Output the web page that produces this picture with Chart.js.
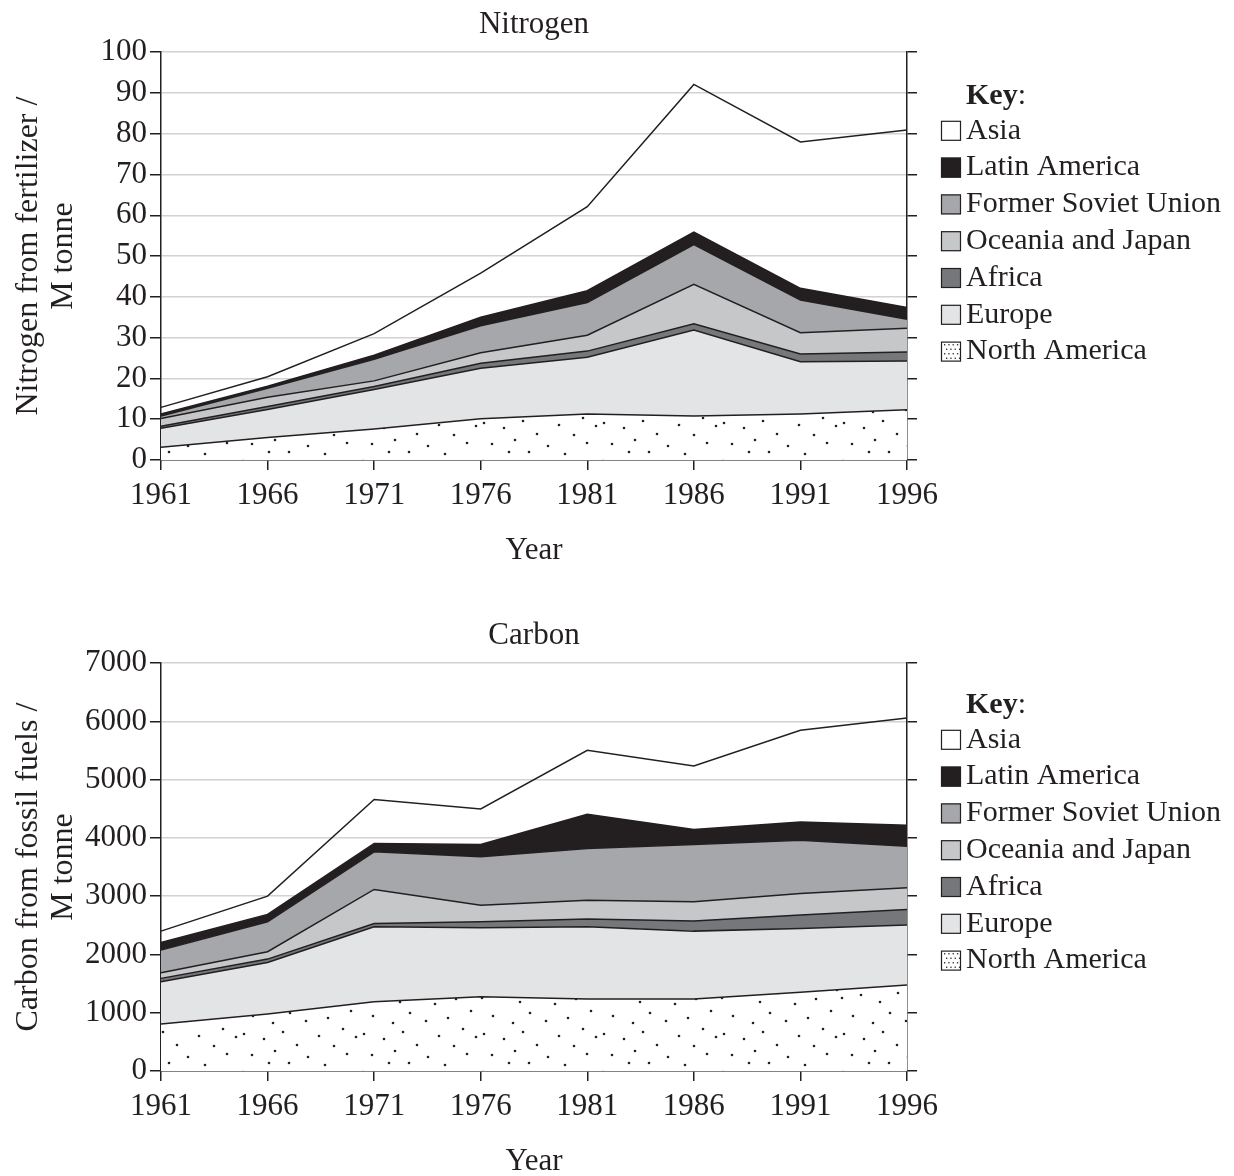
<!DOCTYPE html>
<html>
<head>
<meta charset="utf-8">
<script src="https://cdn.jsdelivr.net/npm/chart.js@4.4.1/dist/chart.umd.min.js"></script>
<style>
    body { margin: 0; background: #fff; }
    .panel { position: absolute; left: 0; width: 1234px; height: 569px; }
    #nitrogen-panel { top: 0; }
    #carbon-panel { top: 611px; }
</style>
</head>
<body>
<div class="panel" id="nitrogen-panel"><canvas id="nitrogenChart"></canvas></div>
<div class="panel" id="carbon-panel"><canvas id="carbonChart"></canvas></div>
<script>
const years = ['1961', '1966', '1971', '1976', '1981', '1986', '1991', '1996'];
// stacking order, bottom to top
const regions = ['North America', 'Europe', 'Africa', 'Oceania and Japan', 'Former Soviet Union', 'Latin America', 'Asia'];

// Nitrogen from fertilizer, M tonne
const nitroNorthAmerica = [3.1, 5.5, 7.6, 10.1, 11.3, 10.8, 11.3, 12.3];
const nitroEurope = [4.7, 6.9, 9.7, 12.4, 13.9, 21.1, 12.8, 12.0];
const nitroAfrica = [0.5, 0.7, 0.7, 1.2, 1.5, 1.5, 1.9, 2.2];
const nitroOceaniaJapan = [1.9, 2.3, 1.4, 2.6, 3.9, 9.7, 5.2, 5.8];
const nitroSovietUnion = [0.6, 2.2, 5.3, 6.6, 8.0, 9.7, 8.0, 2.2];
const nitroLatinAmerica = [0.5, 0.5, 1.0, 2.1, 2.9, 3.1, 2.9, 2.9];
const nitroAsia = [1.6, 2.3, 5.3, 10.8, 20.6, 36.2, 35.9, 43.5];

// Carbon from fossil fuels, M tonne
const carbNorthAmerica = [806, 978, 1189, 1275, 1235, 1235, 1350, 1475];
const carbEurope = [726, 886, 1286, 1183, 1240, 1166, 1098, 1029];
const carbAfrica = [58, 57, 58, 103, 132, 172, 228, 270];
const carbOceaniaJapan = [96, 126, 583, 286, 326, 331, 372, 370];
const carbSovietUnion = [389, 514, 646, 829, 887, 984, 914, 715];
const carbLatinAmerica = [132, 127, 144, 212, 588, 258, 314, 361];
const carbAsia = [194, 314, 754, 611, 1098, 1091, 1573, 1840];

const nitroTicks = [0, 100, 10];
const carbTicks = [0, 7000, 1000];

const ink = '#231f20';
const fontSize = 31;
const keyFontSize = 30;

Chart.defaults.font.family = '"Liberation Serif", "Times New Roman", serif';
Chart.defaults.font.size = fontSize;
Chart.defaults.color = ink;

// dotted fill for North America
const dotSpots = [[9, 3], [31, 14], [47, 6], [70, 2], [83, 15], [104, 7], [117, 19],
    [2, 27], [21, 24], [40, 31], [58, 22], [75, 33], [96, 28], [111, 40],
    [13, 45], [33, 52], [50, 42], [66, 50], [88, 47], [103, 58],
    [4, 63], [24, 68], [43, 61], [57, 74], [79, 65], [94, 75], [116, 66],
    [12, 84], [35, 80], [49, 92], [68, 86], [85, 94], [107, 83],
    [3, 101], [22, 106], [41, 112], [60, 102], [77, 113], [97, 104], [115, 110], [29, 92], [16, 118], [90, 119]];

function makeDots() {
    const tile = document.createElement('canvas');
    tile.width = 120;
    tile.height = 120;
    const c = tile.getContext('2d');
    c.fillStyle = '#fff';
    c.fillRect(0, 0, 120, 120);
    c.fillStyle = ink;
    dotSpots.forEach(d => {
        c.beginPath();
        c.arc(d[0], d[1], 1.3, 0, Math.PI * 2);
        c.fill();
    });
    return c.createPattern(tile, 'repeat');
}

const fills = [makeDots(), '#e3e4e6', '#76777b', '#c6c7c9', '#a6a7ab', ink, '#ffffff'];

const keyPlugin = {
    id: 'key',
    afterDraw(chart, args, opts) {
        const ctx = chart.ctx;
        const x = 941;
        const step = 36.8;
        ctx.save();
        ctx.textBaseline = 'middle';
        ctx.fillStyle = ink;
        ctx.font = 'bold ' + keyFontSize + 'px "Liberation Serif"';
        ctx.fillText('Key', 966, opts.top);
        const w = ctx.measureText('Key').width;
        ctx.font = keyFontSize + 'px "Liberation Serif"';
        ctx.fillText(':', 966 + w, opts.top);

        const list = chart.data.datasets.slice().reverse();
        list.forEach((ds, i) => {
            const y = opts.top - 2 + step * (i + 1);
            if (typeof ds.backgroundColor === 'string') {
                ctx.fillStyle = ds.backgroundColor;
                ctx.fillRect(x, y - 10, 20, 20);
            } else {
                // small swatch of dots
                ctx.fillStyle = '#fff';
                ctx.fillRect(x, y - 10, 20, 20);
                ctx.fillStyle = ink;
                for (let r = 0; r < 4; r++) {
                    for (let c = 0; c < 4; c++) {
                        ctx.fillRect(x + 3 + c * 4.3 + (r % 2) * 2, y - 7.5 + r * 4.5, 1.3, 1.3);
                    }
                }
            }
            ctx.strokeStyle = ink;
            ctx.lineWidth = 1.2;
            ctx.strokeRect(x + 0.5, y - 9.5, 19, 19);
            ctx.fillStyle = ink;
            ctx.fillText(ds.label, 966, y);
        });
        ctx.restore();
    }
};

function buildDatasets(series) {
    return regions.map((name, i) => ({
        label: name,
        data: series[i],
        backgroundColor: fills[i],
        borderColor: ink,
        borderWidth: 1.5,
        pointRadius: 0,
        tension: 0,
        fill: i === 0 ? 'origin' : (name === 'Asia' ? false : '-1')
    }));
}

function makeChart(canvasId, title, yTitle, ticks, series, keyTop) {
    const [yMin, yMax, yStep] = ticks;
    return new Chart(document.getElementById(canvasId), {
        type: 'line',
        data: {
            labels: years,
            datasets: buildDatasets(series)
        },
        options: {
            responsive: true,
            maintainAspectRatio: false,
            animation: false,
            plugins: {
                legend: {display: false},
                tooltip: {enabled: false},
                title: {
                    display: true,
                    text: title,
                    fullSize: false,
                    color: ink,
                    font: {size: fontSize, weight: 'normal', lineHeight: 1.2},
                    padding: {top: 6, bottom: 9}
                },
                key: {top: keyTop}
            },
            scales: {
                x: {
                    grid: {drawOnChartArea: false, tickLength: 10, tickColor: ink, lineWidth: 1.5},
                    border: {color: ink, width: 1.5},
                    ticks: {color: ink, padding: 7, maxRotation: 0, autoSkip: false},
                    title: {display: true, text: 'Year', color: ink, font: {size: fontSize, lineHeight: 1.2}, padding: 0},
                    afterFit: s => { s.height = 109; }
                },
                y: {
                    stacked: true,
                    min: yMin,
                    max: yMax,
                    ticks: {stepSize: yStep, color: ink, padding: 3, callback: v => String(v)},
                    grid: {color: '#d2d2d2', lineWidth: 1.5, tickColor: ink, tickLength: 11},
                    border: {color: ink, width: 1.5},
                    title: {display: true, text: yTitle, color: ink, font: {size: 32, lineHeight: 1.1}, padding: {top: 11}},
                    afterFit: s => { s.width = 161; }
                },
                y2: {
                    position: 'right',
                    min: yMin,
                    max: yMax,
                    ticks: {stepSize: yStep, callback: () => ''},
                    grid: {drawOnChartArea: false, tickColor: ink, tickLength: 10, lineWidth: 1.5},
                    border: {color: ink, width: 1.5},
                    afterFit: s => { s.width = 1234 - 907; }
                }
            }
        },
        plugins: [keyPlugin]
    });
}

makeChart('nitrogenChart', 'Nitrogen', ['Nitrogen from fertilizer /', 'M tonne'], nitroTicks,
    [nitroNorthAmerica, nitroEurope, nitroAfrica, nitroOceaniaJapan, nitroSovietUnion, nitroLatinAmerica, nitroAsia], 96);

makeChart('carbonChart', 'Carbon', ['Carbon from fossil fuels /', 'M tonne'], carbTicks,
    [carbNorthAmerica, carbEurope, carbAfrica, carbOceaniaJapan, carbSovietUnion, carbLatinAmerica, carbAsia], 94);
</script>
</body>
</html>
